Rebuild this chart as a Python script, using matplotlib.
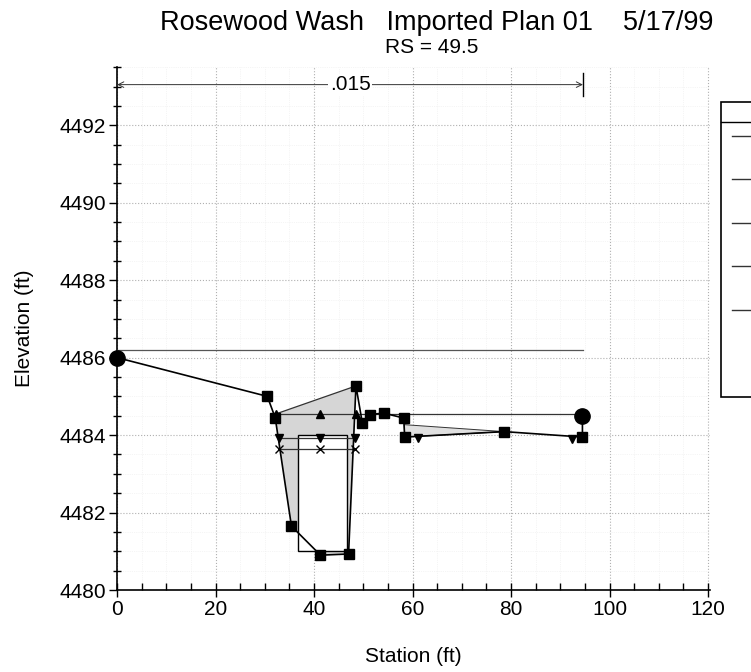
import matplotlib
matplotlib.use("Agg")
from matplotlib import pyplot as plt
from matplotlib.patches import Rectangle, Polygon
from matplotlib.ticker import MultipleLocator

plt.rcParams['font.family'] = ['Liberation Sans', 'DejaVu Sans']

# ground points (squares), bank stations at both ends (circles)
ground_sta = [0, 30.5, 32.1, 35.4, 41.3, 47.0, 48.5, 49.8, 51.4, 54.1, 58.2, 58.4, 78.6, 94.5, 94.5]
ground_elev = [4486.0, 4485.0, 4484.45, 4481.65, 4480.9, 4480.93, 4485.27, 4484.31,
               4484.53, 4484.57, 4484.44, 4483.95, 4484.09, 4483.95, 4484.5]
bank_sta = [0, 94.5]
bank_elev = [4486.0, 4484.5]

# energy grade
eg_sta = [0, 94.6]
eg_elev = [4486.2, 4486.2]

# upstream water surface (triangle up)
wsu_sta = [32.3, 41.3, 48.6, 94.5]
wsu_elev = [4484.55, 4484.55, 4484.55, 4484.55]

# water surface in culvert (triangle down)
wsd_sta = [32.8, 41.3, 48.4]
wsd_elev = [4483.92, 4483.92, 4483.92]
wsd_pts_sta = [61.1, 92.3]
wsd_pts_elev = [4483.92, 4483.9]

# critical depth
crit_sta = [32.9, 41.2, 48.4]
crit_elev = [4483.65, 4483.65, 4483.65]

# road deck top and culvert box
deck_sta = [32.3, 48.5]
deck_elev = [4484.55, 4485.27]
culv_left, culv_right = 36.8, 46.6
culv_invert, culv_top = 4481.0, 4484.0

# small shaded area in right overbank
pond_sta = [58.3, 78.6, 58.4]
pond_elev = [4484.27, 4484.09, 4483.95]

n_sta = [0, 94.6]
n_label = ".015"

fig = plt.figure(figsize=(7.51, 6.72), dpi=100)
ax = fig.add_axes([0.156, 0.122, 0.790, 0.778])

# embankment fill with culvert opening
emb_x = deck_sta + [47.0, 41.3, 35.4, 32.1]
emb_y = deck_elev + [4480.93, 4480.9, 4481.65, 4484.45]
ax.add_patch(Polygon(list(zip(emb_x, emb_y)), closed=True, facecolor="#d6d6d6",
                     edgecolor="none", zorder=1))
ax.add_patch(Rectangle((culv_left, culv_invert), culv_right - culv_left, culv_top - culv_invert,
                       facecolor="white", edgecolor="black", lw=1.0, zorder=2))
ax.add_patch(Polygon(list(zip(pond_sta, pond_elev)), closed=True, facecolor="#e0e0e0",
                     edgecolor="#333333", lw=0.7, zorder=1))
ax.plot(deck_sta, deck_elev, color="#333333", lw=0.9, zorder=3)

ax.plot(eg_sta, eg_elev, color="#555555", lw=0.9, zorder=3)
ax.plot(wsu_sta, wsu_elev, color="#333333", lw=0.9, marker="^", ms=6, mfc="black", mec="black", zorder=4)
ax.plot(wsd_sta, wsd_elev, color="#333333", lw=0.9, marker="v", ms=6, mfc="black", mec="black", zorder=4)
ax.plot(wsd_pts_sta, wsd_pts_elev, ls="none", marker="v", ms=6, mfc="black", mec="black", zorder=4)
ax.plot(crit_sta, crit_elev, color="#333333", lw=0.9, marker="x", ms=6, mec="black", zorder=4)

ax.plot(ground_sta, ground_elev, color="black", lw=1.2, zorder=5)
ax.plot(ground_sta[1:-1], ground_elev[1:-1], ls="none", marker="s", ms=6.5, color="black", zorder=6)
ax.plot(bank_sta, bank_elev, ls="none", marker="o", ms=11, color="black", zorder=6, clip_on=False)

# Manning's n marker across the top
n_y = 4493.05
ax.annotate("", xy=(n_sta[0], n_y), xytext=(n_sta[1], n_y),
            arrowprops=dict(arrowstyle="<->", lw=0.7, color="#333333", shrinkA=0, shrinkB=0))
ax.plot([n_sta[1], n_sta[1]], [n_y - 0.3, n_y + 0.3], color="black", lw=1.0, clip_on=False)
ax.text(sum(n_sta) / 2, n_y, n_label, ha="center", va="center", fontsize=15,
        bbox=dict(facecolor="white", edgecolor="none", pad=1))

ax.set_xlim(0, 120.5)
ax.set_ylim(4480, 4493.5)
ax.xaxis.set_minor_locator(MultipleLocator(5))
ax.yaxis.set_minor_locator(MultipleLocator(0.5))
ax.set_yticks([4480, 4482, 4484, 4486, 4488, 4490, 4492])
ax.set_xticks([0, 20, 40, 60, 80, 100, 120])

for s in ["top", "right"]:
    ax.spines[s].set_visible(False)
ax.spines["left"].set_linewidth(1.2)
ax.spines["bottom"].set_linewidth(1.2)
ax.tick_params(axis="x", which="major", direction="inout", length=10, width=1, labelsize=15, pad=2)
ax.tick_params(axis="x", which="minor", direction="in", length=5, width=1)
ax.tick_params(axis="y", which="major", direction="out", length=6, width=1, labelsize=15, pad=2)
ax.tick_params(axis="y", which="minor", direction="inout", length=6, width=1)

ax.grid(which="major", color="#b0b0b0", ls=":", lw=0.8)
ax.grid(which="minor", color="#ececec", ls=":", lw=0.5)
ax.set_axisbelow(True)

ax.set_xlabel("Station (ft)", fontsize=15, labelpad=20)
ax.set_ylabel("Elevation (ft)", fontsize=15, labelpad=18)

fig.text(0.582, 0.966, "Rosewood Wash   Imported Plan 01    5/17/99", ha="center", va="center", fontsize=19.5)
fig.text(0.575, 0.929, "RS = 49.5", ha="center", va="center", fontsize=15)

# legend box cut off at the right edge
fig.patches.append(Rectangle((721 / 751, 1 - 397 / 672), 0.2, (397 - 102) / 672, transform=fig.transFigure,
                             facecolor="white", edgecolor="black", lw=1.2, figure=fig))
fig.lines.append(plt.Line2D([721 / 751, 1], [1 - 122 / 672] * 2, transform=fig.transFigure,
                            color="black", lw=1.0, figure=fig))
for py in [136, 179, 223, 266, 310]:
    fig.lines.append(plt.Line2D([732 / 751, 1], [1 - py / 672] * 2, transform=fig.transFigure,
                                color="#333333", lw=1.0, figure=fig))

plt.savefig("out.png", dpi=100)
